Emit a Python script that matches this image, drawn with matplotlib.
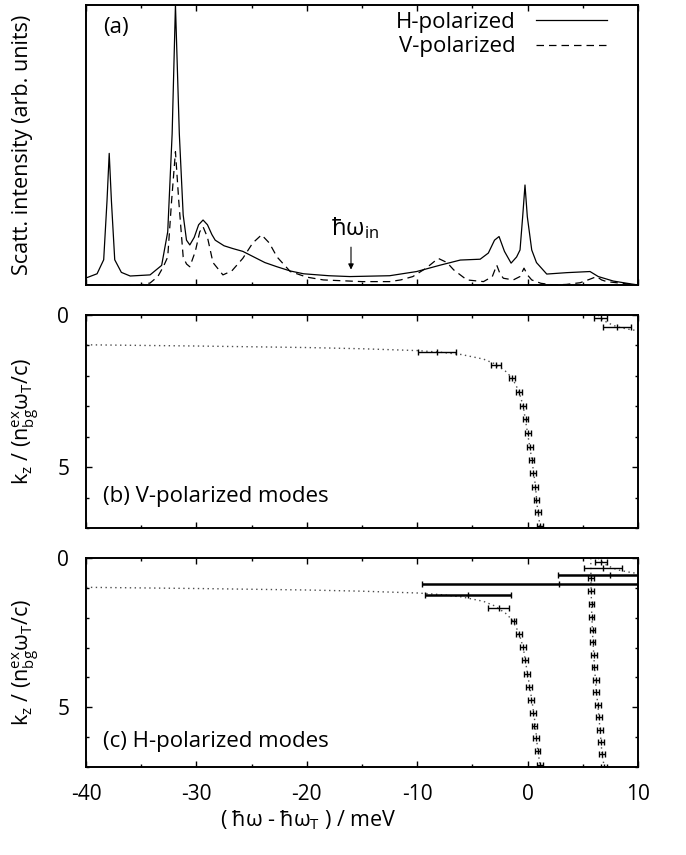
import numpy as np
import matplotlib
matplotlib.use('Agg')
import matplotlib.pyplot as plt
from matplotlib.ticker import MultipleLocator

plt.rcParams['font.family'] = ['Open Sans', 'DejaVu Sans']
plt.rcParams['mathtext.default'] = 'regular'
plt.rcParams['axes.unicode_minus'] = False
plt.rcParams['font.size'] = 15

# ---- panel (a): scattering spectra ----
e_H = [-40.0, -39.0, -38.4, -38.1, -37.9, -37.7, -37.4, -36.8, -36.0, -34.2, -33.15, -32.6,
       -32.2, -31.9, -31.55, -31.2, -30.9, -30.6, -30.2, -29.8, -29.4, -29.0, -28.6, -28.3,
       -27.5, -26.7, -25.8, -24.8, -23.8, -22.7, -21.5, -20.3, -18.0, -16.1, -12.5, -10.05,
       -7.9, -6.1, -4.3, -3.56, -3.0, -2.59, -2.1, -1.5, -1.0, -0.69, -0.45, -0.24, -0.03,
       0.37, 0.8, 1.73, 3.54, 5.65, 6.4, 7.76, 9.0, 10.0]
I_H = [0.025, 0.04, 0.09, 0.30, 0.47, 0.30, 0.09, 0.045, 0.032, 0.036, 0.07, 0.19,
       0.54, 1.0, 0.54, 0.25, 0.16, 0.143, 0.17, 0.215, 0.232, 0.215, 0.18, 0.16,
       0.14, 0.13, 0.12, 0.10, 0.08, 0.065, 0.05, 0.04, 0.033, 0.03, 0.033, 0.048,
       0.071, 0.089, 0.092, 0.114, 0.16, 0.173, 0.12, 0.078, 0.10, 0.125, 0.244, 0.357, 0.244,
       0.125, 0.08, 0.039, 0.044, 0.048, 0.03, 0.014, 0.006, 0.0]

e_V = [-40.0, -35.1, -34.2, -33.5, -33.0, -32.6, -32.25, -31.9, -31.6, -31.2, -30.9, -30.6,
       -30.1, -29.7, -29.4, -29.0, -28.5, -27.6, -26.8, -25.8, -24.9, -24.1, -23.4, -22.7,
       -21.5, -20.0, -18.5, -15.0, -12.5, -11.5, -10.4, -9.2, -8.1, -7.3, -6.7, -5.5, -4.0,
       -3.2, -2.8, -2.5, -2.2, -1.3, -0.7, -0.33, 0.0, 0.37, 1.2, 2.33, 3.5, 4.75, 5.6,
       6.25, 6.7, 7.16, 8.5, 10.0]
I_V = [0.0, 0.0, 0.007, 0.03, 0.065, 0.10, 0.30, 0.476, 0.30, 0.10, 0.075, 0.065,
       0.12, 0.19, 0.208, 0.17, 0.08, 0.036, 0.05, 0.095, 0.15, 0.179, 0.15, 0.10,
       0.048, 0.028, 0.018, 0.012, 0.012, 0.018, 0.03, 0.06, 0.095, 0.08, 0.054, 0.018, 0.012,
       0.03, 0.071, 0.04, 0.024, 0.018, 0.03, 0.06, 0.035, 0.018, 0.006, 0.0, 0.002, 0.008, 0.02,
       0.03, 0.018, 0.012, 0.006, 0.0]

w_in = -16.0  # position of the incoming photon energy arrow

# ---- panel (b): V-polarized modes ----
b_x = [-8.2, -2.88, -1.4, -0.77, -0.42, -0.18, 0.04, 0.2, 0.35, 0.5, 0.65, 0.8, 0.92, 1.12, 6.62, 8.1]
b_k = [1.21, 1.64, 2.07, 2.52, 2.98, 3.41, 3.87, 4.33, 4.75, 5.18, 5.64, 6.07, 6.49, 6.92, 0.1, 0.39]
b_err = [1.72, 0.45, 0.25, 0.25, 0.25, 0.25, 0.25, 0.25, 0.25, 0.25, 0.25, 0.25, 0.25, 0.25, 0.6, 1.3]

# ---- panel (c): H-polarized modes ----
c_x = [-5.37, -2.62, -1.27, -0.80, -0.42, -0.24, -0.08, 0.14, 0.32, 0.48, 0.62, 0.78, 0.91, 1.12,
       5.74, 5.74, 5.80, 5.80, 5.89, 5.89, 6.01, 6.04, 6.17, 6.19, 6.35, 6.47, 6.56, 6.65, 6.74, 6.92,
       6.62, 6.86, 7.46, 2.84]
c_k = [1.25, 1.68, 2.10, 2.54, 2.99, 3.41, 3.87, 4.31, 4.76, 5.18, 5.62, 6.04, 6.48, 6.92,
       0.68, 1.12, 1.55, 1.97, 2.40, 2.82, 3.24, 3.66, 4.08, 4.50, 4.92, 5.33, 5.75, 6.17, 6.58, 6.99,
       0.12, 0.32, 0.58, 0.88]
c_err = [3.9, 0.93, 0.25, 0.25, 0.25, 0.25, 0.25, 0.25, 0.25, 0.25, 0.25, 0.25, 0.25, 0.25,
         0.25, 0.25, 0.25, 0.25, 0.25, 0.25, 0.25, 0.25, 0.25, 0.25, 0.25, 0.25, 0.25, 0.25, 0.25, 0.25,
         0.56, 1.72, 4.67, 12.44]

# dotted dispersion curves
low_x = [-40, -30, -20, -15, -10, -8, -6, -4, -3, -2, -1.4, -0.8, -0.4, 0.0, 0.4, 0.7, 0.9, 1.15]
low_k = [0.98, 1.02, 1.07, 1.11, 1.17, 1.22, 1.3, 1.45, 1.6, 1.85, 2.07, 2.5, 3.0, 3.9, 4.8, 5.6, 6.4, 7.0]
up_x = [6.4, 6.62, 7.2, 8.1, 9.0, 10.0]
up_k = [0.0, 0.1, 0.25, 0.39, 0.46, 0.52]
mid_x = [5.72, 5.74, 5.80, 5.89, 6.03, 6.18, 6.35, 6.56, 6.74, 6.95]
mid_k = [0.0, 0.9, 1.8, 2.6, 3.5, 4.3, 4.9, 5.75, 6.6, 7.0]

xticks = [-40, -30, -20, -10, 0, 10]

fig = plt.figure(figsize=(6.86, 8.55), dpi=100)
ax_a = fig.add_axes([0.1254, 0.6667, 0.8047, 0.3275])
ax_b = fig.add_axes([0.1254, 0.3825, 0.8047, 0.2491])
ax_c = fig.add_axes([0.1254, 0.1029, 0.8047, 0.2444])

for ax in (ax_a, ax_b, ax_c):
    ax.set_xlim(-40, 10)
    ax.set_xticks(xticks)
    ax.xaxis.set_minor_locator(MultipleLocator(5))
    ax.tick_params(which='both', direction='in', top=True, right=True, width=1.0, pad=12)
    ax.tick_params(which='major', length=4)
    ax.tick_params(which='minor', length=2)
    for s in ax.spines.values():
        s.set_linewidth(1.4)

# (a)
ax_a.plot(e_H, I_H, color='k', lw=0.9, label='H-polarized')
ax_a.plot(e_V, I_V, color='k', lw=0.9, dashes=[6, 4], label='V-polarized')
ax_a.set_ylim(0, 1.0)
ax_a.set_yticks([])
ax_a.tick_params(labelbottom=False)
ax_a.set_ylabel('Scatt. intensity (arb. units)', fontsize=15.5)
ax_a.yaxis.set_label_coords(-0.096, 0.5)
ax_a.text(0.031, 0.918, '(a)', transform=ax_a.transAxes, fontsize=16, va='center')
ax_a.annotate('', xy=(w_in, 0.045), xytext=(w_in, 0.145),
              arrowprops=dict(arrowstyle='-|>', color='k', lw=0.8, mutation_scale=8))
ax_a.text(w_in + 0.4, 0.155, 'ħω$_{in}$', fontsize=17, ha='center', va='bottom')
ax_a.legend(loc='upper right', bbox_to_anchor=(0.944, 0.975), markerfirst=False, frameon=False,
            fontsize=16, handlelength=3.2, labelspacing=0.15, borderaxespad=0, borderpad=0,
            handletextpad=0.9)

# (b) and (c)
def modes(ax, x, k, err):
    ax.plot(low_x, low_k, color='0.3', lw=1.0, ls=(0, (1, 2.5)))
    ax.plot(up_x, up_k, color='0.3', lw=1.0, ls=(0, (1, 2.5)))
    x = np.array(x); k = np.array(k); err = np.array(err)
    wide = err > 3  # very broad modes drawn with a heavier bar
    ax.errorbar(x[~wide], k[~wide], xerr=err[~wide], fmt='|', color='k', ms=4,
                elinewidth=1.0, capsize=2.5, capthick=1.0)
    ax.errorbar(x[wide], k[wide], xerr=err[wide], fmt='|', color='k', ms=5,
                elinewidth=1.8, capsize=2.5, capthick=1.0)
    ax.set_ylim(7, 0)
    ax.set_yticks([0, 5])
    ax.yaxis.set_minor_locator(MultipleLocator(1))
    ax.set_ylabel('k$_z$ / (n$_{bg}^{ex}$ω$_T$/c)', fontsize=15.5)
    ax.yaxis.set_label_coords(-0.08, 0.5)

modes(ax_b, b_x, b_k, b_err)
ax_b.tick_params(labelbottom=False)
ax_b.text(0.031, 0.15, '(b) V-polarized modes', transform=ax_b.transAxes, fontsize=16, va='center')

ax_c.plot(mid_x, mid_k, color='0.3', lw=1.0, ls=(0, (1, 2.5)))
modes(ax_c, c_x, c_k, c_err)
ax_c.text(0.031, 0.12, '(c) H-polarized modes', transform=ax_c.transAxes, fontsize=16, va='center')
ax_c.set_xlabel('( ħω - ħω$_T$ ) / meV', fontsize=15.5)
ax_c.xaxis.set_label_coords(0.402, -0.2)

fig.savefig('out.png', dpi=100)
